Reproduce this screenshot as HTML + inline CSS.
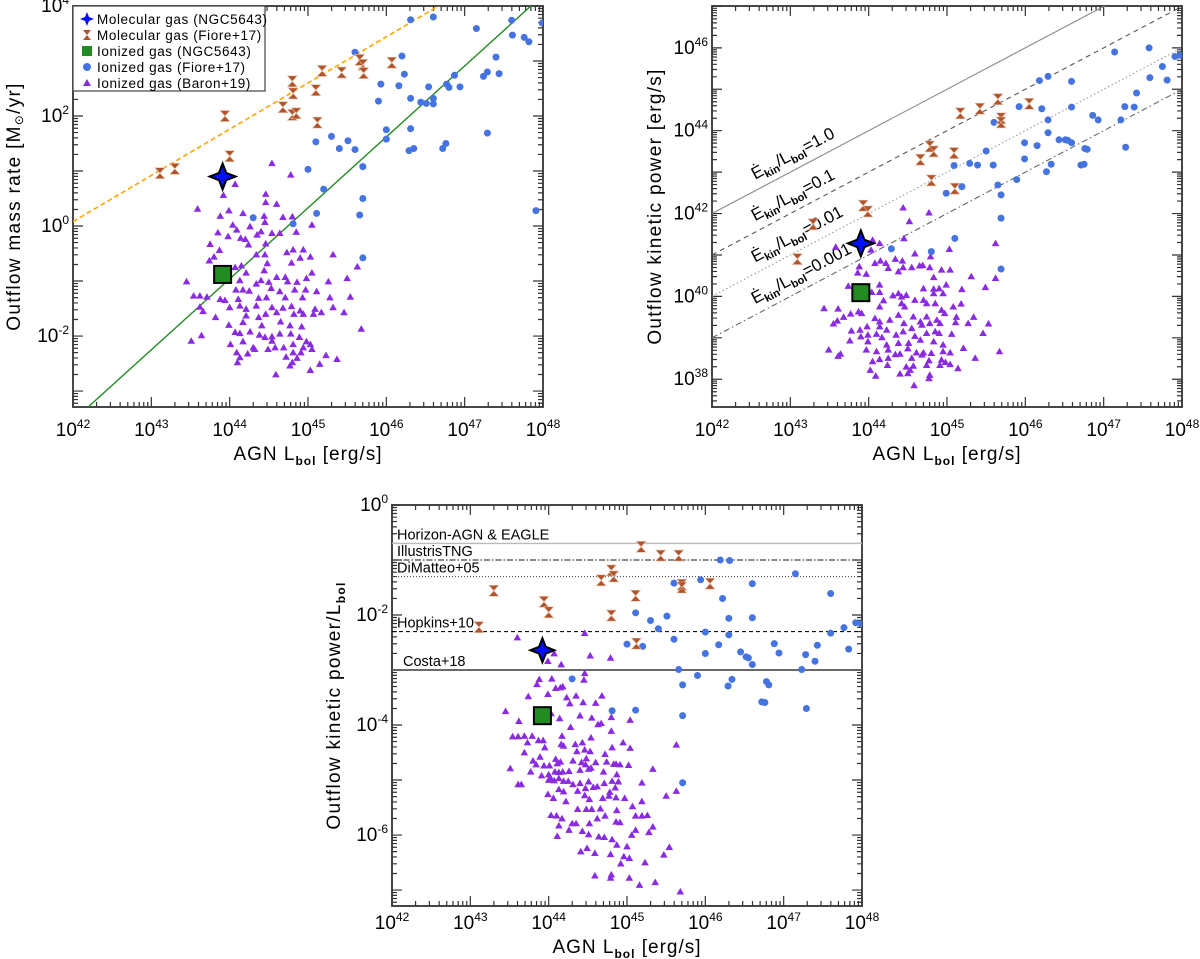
<!DOCTYPE html>
<html><head><meta charset="utf-8"><title>AGN outflows</title>
<style>
html,body{margin:0;padding:0;background:#fff;}
svg{display:block;font-family:"Liberation Sans",sans-serif;}
</style></head>
<body>
<svg id="fig" width="1200" height="959" viewBox="0 0 1200 959" xmlns="http://www.w3.org/2000/svg"></svg>
<script>
// ---------- Panel 1: outflow mass rate (log10 values) ----------
const p1MolFioreL=[43.11,43.30,43.94,44.00,44.68,44.80,44.81,44.80,44.85,45.10,45.12,45.18,45.43,45.66,45.70,45.71,46.07];
const p1MolFioreY=[0.96,1.04,2.0,1.27,2.16,2.63,2.41,2.02,2.05,2.47,1.88,2.82,2.79,3.02,2.93,2.78,2.97];
const p1IonFioreL=[44.30,44.81,45.00,45.10,45.11,45.20,45.30,45.40,45.51,45.60,45.60,45.66,45.70,45.70,45.70,45.90,45.93,46.00,46.00,46.16,46.20,46.23,46.29,46.31,46.31,46.35,46.31,46.44,46.51,46.54,46.60,46.60,46.60,46.72,46.76,46.77,46.80,46.87,46.94,47.15,47.24,47.29,47.29,47.40,47.44,47.60,47.61,47.76,47.82,47.91,47.99];
const p1IonFioreY=[0.15,0.04,1.03,1.53,0.23,0.67,1.63,1.41,1.55,1.39,3.16,0.20,0.50,-0.58,1.08,2.27,2.58,1.75,1.58,2.55,3.09,2.76,1.37,1.77,2.32,1.41,3.75,2.25,2.23,2.53,2.32,2.22,3.80,1.41,1.50,2.58,2.52,2.74,2.53,3.59,2.72,2.80,1.69,3.07,2.77,3.74,3.47,3.43,3.35,0.28,3.69];
const p1BaronL=[44.54,44.78,44.07,43.92,44.46,43.59,43.99,44.46,44.60,44.17,43.88,44.44,44.68,44.80,44.45,44.04,44.26,45.05,44.09,43.85,44.40,44.35,44.54,44.64,44.85,43.98,44.14,44.20,43.75,43.87,44.24,44.46,44.73,44.81,44.94,44.34,44.45,43.74,43.80,44.79,45.03,45.32,44.90,44.48,44.07,44.15,44.13,44.21,44.44,45.63,45.50,43.45,44.60,44.71,44.34,44.50,44.40,44.98,45.05,45.26,44.74,44.86,43.54,43.62,43.71,44.08,44.17,44.25,44.53,44.64,44.83,44.97,45.11,43.62,43.88,43.94,44.11,44.37,44.47,44.71,44.93,45.28,45.54,44.00,44.13,44.21,44.34,44.54,44.68,44.79,44.90,45.09,45.17,45.32,45.46,43.66,43.82,44.21,44.37,44.46,44.60,44.82,44.94,45.07,43.99,44.17,44.41,44.65,44.77,44.92,45.68,43.51,43.64,44.07,44.13,44.26,44.38,44.45,44.54,44.64,44.78,44.89,44.98,45.03,45.05,44.01,44.17,44.30,44.54,44.58,44.69,44.81,44.94,44.09,44.23,44.32,44.49,44.81,44.91,45.23,45.37,44.13,44.72,44.86,44.10,44.77,44.80,45.15,44.59,45.03];
const p1BaronY=[1.14,0.93,0.76,0.56,0.58,0.31,0.28,0.43,0.40,0.23,0.18,0.18,0.16,0.17,0.07,0.02,-0.01,0.02,-0.07,-0.12,-0.10,-0.16,-0.13,-0.13,-0.11,-0.19,-0.22,-0.24,-0.33,-0.44,-0.34,-0.32,-0.48,-0.43,-0.43,-0.52,-0.52,-0.63,-0.56,-0.67,-0.56,-0.52,-0.58,-0.68,-0.75,-0.72,-0.99,-0.85,-0.81,-0.74,-0.95,-1.01,-0.93,-0.93,-1.05,-1.02,-0.99,-0.95,-0.85,-1.01,-1.01,-1.02,-1.27,-1.27,-1.29,-1.16,-1.16,-1.18,-1.13,-1.19,-1.16,-1.16,-1.19,-1.47,-1.33,-1.35,-1.33,-1.31,-1.30,-1.30,-1.30,-1.30,-1.29,-1.48,-1.45,-1.51,-1.45,-1.48,-1.49,-1.46,-1.54,-1.51,-1.57,-1.48,-1.57,-1.55,-1.66,-1.63,-1.66,-1.60,-1.57,-1.60,-1.60,-1.60,-1.80,-1.75,-1.81,-1.74,-1.81,-1.83,-1.87,-2.09,-1.99,-1.93,-1.95,-1.92,-1.98,-2.02,-2.01,-1.96,-1.96,-2.02,-2.10,-2.15,-2.24,-2.15,-2.10,-2.21,-2.09,-2.21,-2.21,-2.15,-2.21,-2.30,-2.32,-2.24,-2.24,-2.30,-2.30,-2.35,-2.42,-2.39,-2.38,-2.40,-2.48,-2.54,-2.48,-2.51,-2.70,-2.62];
const p1NgcMolL=[43.91], p1NgcMolY=[0.90];
const p1NgcIonL=[43.91], p1NgcIonY=[-0.88];
const p1FitOrange=[0.08,0.84];   // [logY at L=1e42, slope]
const p1FitGreen=[-3.54,1.29];   // [logY at L=1e42, slope]

// ---------- Panel 2: kinetic power ----------
const p2MolFioreL=[43.09,43.29,43.93,43.99,44.66,44.78,44.83,44.80,45.09,45.10,45.17,45.42,45.65,45.69,45.69,46.05];
const p2MolFioreY=[40.90,41.74,42.19,42.05,43.30,43.62,43.50,42.80,43.46,42.60,44.42,44.53,44.76,44.30,44.20,44.65];
const p2IonFioreL=[44.29,44.80,45.10,44.99,45.19,45.09,45.29,45.39,45.50,45.59,45.60,45.65,45.69,45.69,45.69,45.89,45.92,45.99,45.99,46.15,46.18,46.21,46.27,46.29,46.29,46.29,46.33,46.43,46.51,46.54,46.59,46.59,46.59,46.71,46.75,46.76,46.79,46.86,46.93,47.14,47.22,47.27,47.28,47.39,47.42,47.58,47.59,47.75,47.81,47.91,47.97];
const p2IonFioreY=[41.15,41.08,41.40,42.49,42.65,43.16,43.21,43.17,43.51,43.17,44.20,42.69,42.45,41.89,40.66,42.82,44.58,43.71,43.32,43.64,45.21,44.53,43.01,44.26,43.95,45.31,43.19,43.78,43.78,43.77,43.71,44.57,45.19,43.17,43.19,43.57,43.55,44.37,44.26,45.90,44.26,44.58,43.60,44.57,44.91,46.00,45.28,45.55,45.22,45.79,45.82];
const p2BaronL=[44.44,44.77,44.52,44.45,44.05,44.14,43.58,44.03,45.03,45.62,44.59,44.79,44.34,44.43,44.15,44.08,44.22,43.88,44.25,44.44,44.55,44.65,44.69,44.78,44.93,45.04,43.86,43.97,44.38,44.83,43.74,44.14,44.70,44.83,44.90,44.99,45.19,45.31,45.49,45.62,44.04,44.14,44.31,44.38,44.42,44.48,44.59,44.70,44.83,44.95,43.43,43.61,43.87,43.91,44.14,44.19,44.42,44.46,44.74,44.85,44.93,45.08,45.18,43.55,43.68,43.77,44.08,44.14,44.27,44.38,44.57,44.66,44.74,44.87,44.97,45.12,45.34,45.53,43.60,43.78,43.89,43.98,44.14,44.23,44.45,44.55,44.68,44.78,44.91,45.11,45.27,45.46,43.76,43.90,43.99,44.10,44.17,44.35,44.44,44.59,44.74,44.85,44.90,45.06,43.99,44.23,44.38,44.51,44.66,44.83,44.95,45.21,43.49,43.97,44.10,44.25,44.40,44.50,44.61,44.70,44.80,44.95,45.04,43.61,43.64,44.05,44.14,44.25,44.34,44.55,44.68,44.77,44.93,44.98,45.36,45.67,44.02,44.24,44.48,44.53,44.57,44.74,44.91,45.04,45.14,44.09,44.40,44.50,44.78,44.77,44.58];
const p2BaronY=[42.14,42.02,41.81,41.40,41.36,41.28,41.19,41.12,41.14,41.28,41.03,40.96,40.90,40.86,40.86,40.80,40.80,40.72,40.68,40.70,40.70,40.74,40.75,40.70,40.64,40.64,40.57,40.54,40.60,40.46,40.25,40.28,40.19,40.18,40.19,40.28,40.17,40.48,40.22,40.44,40.10,40.10,40.02,40.07,39.99,40.03,39.91,39.91,40.07,40.07,39.71,39.70,39.63,39.59,39.75,39.90,39.83,39.75,39.83,39.83,39.67,39.75,39.82,39.34,39.50,39.58,39.47,39.39,39.43,39.55,39.51,39.39,39.51,39.43,39.59,39.50,39.50,39.34,39.41,39.17,39.19,39.27,39.27,39.19,39.35,39.23,39.31,39.35,39.35,39.37,39.35,39.11,38.93,39.03,39.07,39.09,39.01,39.07,39.15,39.04,39.11,39.15,39.11,39.09,38.91,38.83,38.87,38.87,38.95,38.91,38.83,38.75,38.71,38.71,38.67,38.71,38.61,38.74,38.64,38.64,38.63,38.67,38.64,38.56,38.61,38.43,38.48,38.51,38.60,38.51,38.59,38.45,38.47,38.41,38.51,38.67,38.22,38.34,38.30,38.22,38.32,38.34,38.34,38.36,38.26,38.08,38.13,38.14,38.10,38.02,37.85];
const p2NgcMolL=[43.90], p2NgcMolY=[41.28];
const p2NgcIonL=[43.90], p2NgcIonY=[40.09];
const p2Ratios=[1.0,0.1,0.01,0.001];
const p2RatioText=["1.0","0.1","0.01","0.001"];

// ---------- Panel 3: kinetic power / Lbol ----------
const p3MolFioreL=[43.11,43.30,43.94,44.00,44.67,44.80,44.83,44.80,45.11,45.12,45.18,45.43,45.66,45.70,45.70,46.06];
const p3MolFioreY=[-2.22,-1.56,-1.76,-1.95,-1.37,-1.19,-1.30,-2.01,-1.65,-2.52,-0.76,-0.92,-0.92,-1.45,-1.50,-1.43];
const p3IonFioreL=[44.30,44.81,45.11,45.00,45.20,45.11,45.30,45.40,45.51,45.60,45.60,45.66,45.71,45.71,45.71,45.90,45.94,46.00,46.00,46.17,46.19,46.22,46.29,46.30,46.30,46.31,46.34,46.45,46.52,46.55,46.60,46.60,46.60,46.72,46.76,46.78,46.81,46.88,46.94,47.15,47.23,47.28,47.29,47.40,47.43,47.60,47.60,47.77,47.83,47.92,47.99];
const p3IonFioreY=[-3.16,-3.74,-3.73,-2.53,-2.57,-1.96,-2.10,-2.25,-2.02,-2.44,-1.42,-2.99,-3.27,-3.83,-5.05,-3.10,-1.36,-2.31,-2.70,-2.54,-1.00,-1.70,-3.29,-2.06,-2.36,-1.01,-3.17,-2.67,-2.76,-2.78,-1.43,-2.05,-2.90,-3.58,-3.59,-3.21,-3.27,-2.52,-2.69,-1.25,-2.99,-2.72,-3.70,-2.84,-2.55,-1.61,-2.33,-2.23,-2.62,-2.14,-2.16];
const p3BaronL=[43.60,44.46,44.07,43.99,44.16,44.53,44.79,44.46,44.45,43.88,43.85,44.04,44.09,44.15,44.18,43.74,43.99,44.23,44.35,44.27,44.44,44.68,44.60,43.45,43.62,44.03,44.14,44.40,44.55,44.80,44.67,44.63,44.28,44.80,45.04,43.54,43.61,43.69,43.79,43.87,43.93,43.73,43.95,44.17,44.16,44.19,44.34,44.43,44.54,44.36,44.46,44.53,44.95,45.04,44.81,45.63,43.69,43.89,43.80,43.84,43.94,44.01,44.09,44.11,44.15,44.31,44.42,44.47,44.48,44.60,44.72,44.74,44.83,44.86,44.91,45.02,43.51,43.77,43.91,44.00,44.08,44.13,44.18,44.26,44.40,44.51,44.54,44.70,44.87,43.61,43.65,44.00,44.03,44.07,44.13,44.19,44.25,44.31,44.40,44.47,44.51,44.57,44.62,44.71,44.81,44.89,44.85,45.19,45.33,44.13,44.19,44.37,44.46,44.52,44.69,44.77,44.86,44.97,44.78,43.99,44.06,44.22,44.37,44.48,44.55,44.66,44.87,45.07,45.19,45.50,45.63,44.03,44.10,44.17,44.30,44.35,44.13,44.26,44.43,44.52,44.62,44.72,44.86,44.91,45.11,45.19,45.26,44.11,44.51,44.64,44.71,44.81,44.87,45.00,45.06,45.11,45.28,45.33,44.41,44.49,44.59,44.79,44.96,44.92,45.03,45.23,45.47,45.54,44.59,44.80,44.79,45.03,45.16,45.36,45.68];
const p3BaronY=[-2.41,-2.33,-2.70,-2.84,-2.90,-2.74,-2.78,-3.06,-3.18,-3.17,-3.26,-3.16,-3.33,-3.32,-3.30,-3.48,-3.44,-3.50,-3.47,-3.61,-3.59,-3.47,-3.60,-3.75,-3.93,-3.79,-3.88,-3.83,-3.87,-3.86,-3.97,-3.99,-4.04,-4.11,-3.91,-4.21,-4.21,-4.20,-4.20,-4.28,-4.28,-4.32,-4.41,-4.20,-4.35,-4.38,-4.35,-4.32,-4.23,-4.48,-4.45,-4.48,-4.32,-4.42,-4.41,-4.36,-4.50,-4.58,-4.65,-4.72,-4.74,-4.74,-4.62,-4.70,-4.67,-4.65,-4.68,-4.72,-4.61,-4.68,-4.53,-4.67,-4.71,-4.71,-4.72,-4.73,-4.79,-4.85,-4.92,-4.90,-4.85,-4.86,-4.85,-4.84,-4.82,-4.80,-4.78,-4.85,-4.90,-5.08,-5.08,-5.00,-4.98,-5.01,-4.97,-5.02,-5.02,-5.08,-5.06,-5.15,-5.03,-5.13,-5.12,-5.06,-5.02,-5.03,-5.14,-5.05,-4.80,-5.17,-5.21,-5.20,-5.28,-5.35,-5.33,-5.29,-5.32,-5.33,-5.22,-5.26,-5.33,-5.39,-5.53,-5.53,-5.53,-5.52,-5.55,-5.48,-5.39,-5.29,-5.20,-5.64,-5.65,-5.70,-5.79,-5.79,-5.83,-5.91,-5.93,-5.79,-5.70,-5.65,-5.76,-5.77,-5.65,-5.65,-5.64,-6.02,-5.99,-6.03,-6.04,-6.08,-6.18,-6.21,-6.00,-5.91,-5.95,-5.85,-6.30,-6.24,-6.33,-6.35,-6.39,-6.52,-6.42,-6.50,-6.36,-6.22,-6.74,-6.72,-6.78,-6.78,-6.91,-6.86,-7.03];
const p3NgcMolL=[43.92], p3NgcMolY=[-2.64];
const p3NgcIonL=[43.92], p3NgcIonY=[-3.83];
const p3RefValues=[0.2,0.1,0.05,0.005,0.001];
const p3RefNames=["Horizon-AGN & EAGLE","IllustrisTNG","DiMatteo+05","Hopkins+10","Costa+18"];

const xTickLabels=["42","43","44","45","46","47","48"];
const p1YTickLabels=["4","2","0","-2"];
const p2YTickLabels=["46","44","42","40","38"];
const p3YTickLabels=["0","-2","-4","-6"];

const NS="http://www.w3.org/2000/svg";
const svg=document.getElementById('fig');
function mk(tag,attrs,parent){const e=document.createElementNS(NS,tag);for(const k in attrs)e.setAttribute(k,attrs[k]);(parent||svg).appendChild(e);return e;}

function makeAxes(P){
  P.sx=v=>P.x0+(v-P.xmin)/(P.xmax-P.xmin)*(P.x1-P.x0);
  P.sy=v=>P.y1-(v-P.ymin)/(P.ymax-P.ymin)*(P.y1-P.y0);
  const g=mk('g',{});
  
  
  const cp=mk('clipPath',{id:P.name+'-clip'});
  mk('rect',{x:P.x0,y:P.y0,width:P.x1-P.x0,height:P.y1-P.y0},cp);
  let d="";
  for(let dec=Math.floor(P.xmin);dec<=Math.ceil(P.xmax);dec++){
    for(let k=1;k<=9;k++){const v=dec+Math.log10(k);if(v<P.xmin-1e-6||v>P.xmax+1e-6)continue;
      const x=P.sx(v),L=k===1?10:5;d+=`M${x} ${P.y1}v${-L}M${x} ${P.y0}v${L}`;}
  }
  for(let dec=Math.floor(P.ymin);dec<=Math.ceil(P.ymax);dec++){
    for(let k=1;k<=9;k++){const v=dec+Math.log10(k);if(v<P.ymin-1e-6||v>P.ymax+1e-6)continue;
      const y=P.sy(v),L=k===1?10:5;d+=`M${P.x0} ${y}h${L}M${P.x1} ${y}h${-L}`;}
  }
  mk('path',{d:d,stroke:'#333','stroke-width':1.2,fill:'none'},g);
  mk('rect',{x:P.x0,y:P.y0,width:P.x1-P.x0,height:P.y1-P.y0,fill:'none',stroke:'#333','stroke-width':1.8},g);
  xTickLabels.forEach(s=>{
    const t=mk('text',{x:P.sx(+s),y:P.y1+P.xlo,'text-anchor':'middle','font-size':19,fill:'#000'},g);
    
    
    t.innerHTML=`10<tspan dy="-8" font-size="12">${s}</tspan>`;
  });
  P.yLabels.forEach(s=>{
    const t=mk('text',{x:P.x0-4,y:P.sy(+s)+6,'text-anchor':'end','font-size':19,fill:'#000'},g);
    
    
    t.innerHTML=`10<tspan dy="-8" font-size="12">${s}</tspan>`;
  });
  const xt=mk('text',{x:(P.x0+P.x1)/2,y:P.y1+P.xto,'text-anchor':'middle','font-size':19,fill:'#000','letter-spacing':'1'},g);
  
  
  xt.innerHTML='AGN L<tspan dy="5" font-size="12" font-weight="bold">bol</tspan><tspan dy="-5"> [erg/s]</tspan>';
  const yt=mk('text',{x:0,y:0,'text-anchor':'middle','font-size':19,fill:'#000','letter-spacing':'1.3',transform:`translate(${P.ytx},${(P.y0+P.y1)/2}) rotate(-90)`},g);
  
  
  yt.innerHTML=P.ytitle;
  return P;
}
function layer(P,name){const g=mk('g',{'clip-path':`url(#${P.name}-clip)`});
  
  return g;}
function triangles(P,X,Y,name){const g=layer(P,name);
  X.forEach((xv,i)=>{const x=P.sx(xv),y=P.sy(Y[i]);
    const e=mk('path',{d:`M${x} ${y-3.8}L${x+3.8} ${y+2.8}L${x-3.8} ${y+2.8}Z`,fill:'#8a2be2'},g);
    
    });}
function dots(P,X,Y,name){const g=layer(P,name);
  X.forEach((xv,i)=>{const e=mk('circle',{cx:P.sx(xv),cy:P.sy(Y[i]),r:3.5,fill:'#4574e0'},g);
    
    });}
function hourglass(P,X,Y,name){const g=layer(P,name);
  X.forEach((xv,i)=>{const x=P.sx(xv),y=P.sy(Y[i]);
    const e=mk('path',{d:`M${x-5} ${y-5.5}H${x+5}L${x} ${y}L${x+5} ${y+5.5}H${x-5}L${x} ${y}Z`,fill:'#b0532a',stroke:'#e8c0a8','stroke-width':0.6},g);
    
    });}
function star(P,X,Y,r){X.forEach((xv,i)=>{const x=P.sx(xv),y=P.sy(Y[i]),q=r*0.28;
  const e=mk('path',{d:`M${x} ${y-r}L${x+q} ${y-q}L${x+r} ${y}L${x+q} ${y+q}L${x} ${y+r}L${x-q} ${y+q}L${x-r} ${y}L${x-q} ${y-q}Z`,fill:'#0010ff',stroke:'#000','stroke-width':2});
  
  });}
function square(P,X,Y){X.forEach((xv,i)=>{const x=P.sx(xv),y=P.sy(Y[i]);
  const e=mk('rect',{x:x-8.5,y:y-8.5,width:17,height:17,fill:'#228b22',stroke:'#000','stroke-width':2});
  
  });}

// ===== Panel 1 =====
const P1=makeAxes({name:'panel1',x0:73,x1:543,y0:6,y1:407,xmin:42,xmax:48,ymin:-3.29,ymax:4,yLabels:p1YTickLabels,ytx:20,xlo:29,xto:53,
  ytitle:'Outflow mass rate [M<tspan font-size="12" dy="3">⊙</tspan><tspan dy="-3">/yr]</tspan>'});
{const g=layer(P1,'fit-lines');
 const o=mk('line',{x1:P1.sx(42),y1:P1.sy(p1FitOrange[0]),x2:P1.sx(48),y2:P1.sy(p1FitOrange[0]+6*p1FitOrange[1]),stroke:'#ffa500','stroke-width':1.6,'stroke-dasharray':'5,3'},g);
 
 
 const gr=mk('line',{x1:P1.sx(42),y1:P1.sy(p1FitGreen[0]),x2:P1.sx(48),y2:P1.sy(p1FitGreen[0]+6*p1FitGreen[1]),stroke:'#228b22','stroke-width':1.4},g);
 
 }
triangles(P1,p1BaronL,p1BaronY,'baron-series');
dots(P1,p1IonFioreL,p1IonFioreY,'fiore-ionized-series');
hourglass(P1,p1MolFioreL,p1MolFioreY,'fiore-molecular-series');
square(P1,p1NgcIonL,p1NgcIonY);
star(P1,p1NgcMolL,p1NgcMolY,13);

// legend
{const g=mk('g',{});
 
 
 mk('rect',{x:73,y:6,width:192,height:85,fill:'#fff',stroke:'#444','stroke-width':1.2},g);
 const names=['Molecular gas (NGC5643)','Molecular gas (Fiore+17)','Ionized gas (NGC5643)','Ionized gas (Fiore+17)','Ionized gas (Baron+19)'];
 names.forEach((n,i)=>{const y=19+i*16;const x=87;
   const ent=mk('g',{},g);
   
   
   if(i===0)mk('path',{d:`M${x} ${y-7}L${x+2} ${y-2}L${x+7} ${y}L${x+2} ${y+2}L${x} ${y+7}L${x-2} ${y+2}L${x-7} ${y}L${x-2} ${y-2}Z`,fill:'#0010ff'},ent);
   if(i===1)mk('path',{d:`M${x-4} ${y-5}H${x+4}L${x} ${y}L${x+4} ${y+5}H${x-4}L${x} ${y}Z`,fill:'#b0532a'},ent);
   if(i===2)mk('rect',{x:x-5,y:y-5,width:10,height:10,fill:'#228b22'},ent);
   if(i===3)mk('circle',{cx:x,cy:y,r:4,fill:'#4574e0'},ent);
   if(i===4)mk('path',{d:`M${x} ${y-4}L${x+4} ${y+3}L${x-4} ${y+3}Z`,fill:'#8a2be2'},ent);
   const t=mk('text',{x:97,y:y+5,'font-size':13.5,fill:'#000','letter-spacing':'0.6'},ent);t.textContent=n;});}

// ===== Panel 2 =====
const P2=makeAxes({name:'panel2',x0:712,x1:1182,y0:6,y1:407,xmin:42,xmax:48,ymin:37.33,ymax:47.01,yLabels:p2YTickLabels,ytx:661,xlo:29,xto:53,
  ytitle:'Outflow kinetic power [erg/s]'});
{const g=layer(P2,'ratio-lines');
 const dashes=['none','5,4','1.5,2.5','6,3,1.5,3'];
 const cols=['#888','#555','#999','#666'];
 p2Ratios.forEach((r,i)=>{const lr=Math.log10(r);
   const l=mk('line',{x1:P2.sx(42),y1:P2.sy(42+lr),x2:P2.sx(48),y2:P2.sy(48+lr),stroke:cols[i],'stroke-width':1.1,'stroke-dasharray':dashes[i]},g);
   
   });
 p2Ratios.forEach((r,i)=>{const lr=Math.log10(r);const x=755;const Lx=42+(x-712)/78.33;const y=P2.sy(Lx+lr)-11;
   const t=mk('text',{x:x,y:y,'font-size':17,fill:'#000',transform:`rotate(-27.9 ${x} ${y})`},svg);
   
   
   t.innerHTML=`Ė<tspan dy="4" font-size="11" font-weight="bold">kin</tspan><tspan dy="-4">/L</tspan><tspan dy="4" font-size="11" font-weight="bold">bol</tspan><tspan dy="-4">=${p2RatioText[i]}</tspan>`;});}
triangles(P2,p2BaronL,p2BaronY,'baron-series');
dots(P2,p2IonFioreL,p2IonFioreY,'fiore-ionized-series');
hourglass(P2,p2MolFioreL,p2MolFioreY,'fiore-molecular-series');
square(P2,p2NgcIonL,p2NgcIonY);
star(P2,p2NgcMolL,p2NgcMolY,13);

// ===== Panel 3 =====
const P3=makeAxes({name:'panel3',x0:392,x1:862,y0:505,y1:906,xmin:42,xmax:48,ymin:-7.29,ymax:0,yLabels:p3YTickLabels,ytx:340,xlo:23,xto:47,
  ytitle:'Outflow kinetic power/L<tspan dy="5" font-size="12" font-weight="bold">bol</tspan>'});
{const g=layer(P3,'reference-lines');
 const styles=[['#bbb','none',1.3],['#444','6,2,1.5,2',1.2],['#555','1,2',1.1],['#111','4,3',1.2],['#555','none',1.8]];
 p3RefValues.forEach((v,i)=>{const y=P3.sy(Math.log10(v));
   const l=mk('line',{x1:392,y1:y,x2:862,y2:y,stroke:styles[i][0],'stroke-dasharray':styles[i][1],'stroke-width':styles[i][2]},g);
   
   
   const t=mk('text',{x:i===4?403:397,y:y-4,'font-size':14.5,fill:'#000'},svg);
   
   
   t.textContent=p3RefNames[i];});}
triangles(P3,p3BaronL,p3BaronY,'baron-series');
dots(P3,p3IonFioreL,p3IonFioreY,'fiore-ionized-series');
hourglass(P3,p3MolFioreL,p3MolFioreY,'fiore-molecular-series');
square(P3,p3NgcIonL,p3NgcIonY);
star(P3,p3NgcMolL,p3NgcMolY,12);
</script>
</body></html>
